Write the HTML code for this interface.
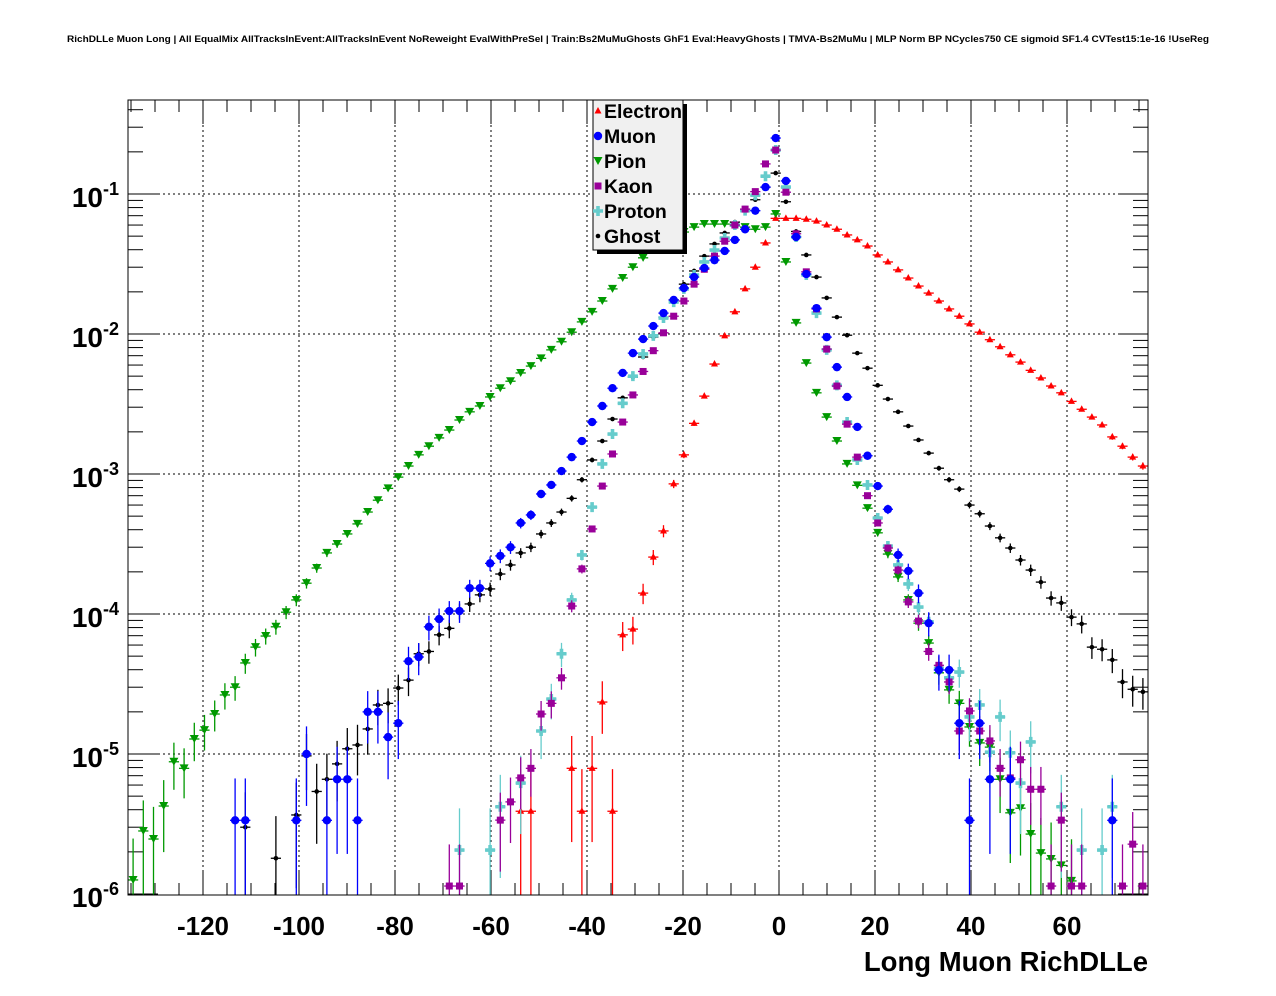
<!DOCTYPE html>
<html><head><meta charset="utf-8"><title>RichDLLe</title>
<style>html,body{margin:0;padding:0;background:#fff;width:1276px;height:996px;overflow:hidden;}svg{display:block;font-family:"Liberation Sans",sans-serif;}</style>
</head><body>
<svg id="chart" width="1276" height="996" viewBox="0 0 1276 996" xmlns="http://www.w3.org/2000/svg">
<defs><clipPath id="pc"><rect x="128" y="100" width="1020" height="795"/></clipPath></defs>
<text x="67" y="42" font-size="9.5" font-weight="bold" textLength="1142" lengthAdjust="spacingAndGlyphs">RichDLLe Muon Long | All EqualMix AllTracksInEvent:AllTracksInEvent NoReweight EvalWithPreSel | Train:Bs2MuMuGhosts GhF1 Eval:HeavyGhosts | TMVA-Bs2MuMu | MLP Norm BP NCycles750 CE sigmoid SF1.4 CVTest15:1e-16 !UseReg</text>
<g id="grid"></g>
<g id="axes"></g>
<g id="marks" clip-path="url(#pc)"></g>
<rect x="128" y="100" width="1020" height="795" fill="none" stroke="#000" stroke-width="1"/>
<g id="legend"></g>
<text x="1148" y="971" text-anchor="end" font-size="27.5" font-weight="bold">Long Muon RichDLLe</text>
</svg>
<script>
const xMin=-135.625, xMax=76.875, nBins=100, binW=(xMax-xMin)/nBins;
const yTickExps=[-1,-2,-3,-4,-5,-6];
const xTickLabels=[-120,-100,-80,-60,-40,-20,0,20,40,60];
const seriesNames=["Electron","Muon","Pion","Kaon","Proton","Ghost"];

const electronBins=[38,39,43,44,45,46,47,48,49,50,51,52,53,54,55,56,57,58,59,60,61,62,63,64,65,66,67,68,69,70,71,72,73,74,75,76,77,78,79,80,81,82,83,84,85,86,87,88,89,90,91,92,93,94,95,96,97,98,99];
const electronVals=[3.9e-6,3.9e-6,7.9e-6,3.9e-6,7.9e-6,2.35e-5,3.9e-6,7.1e-5,7.8e-5,1.41e-4,2.55e-4,3.92e-4,8.5e-4,1.37e-3,2.3e-3,3.6e-3,6.1e-3,9.7e-3,1.44e-2,2.1e-2,3.0e-2,4.47e-2,6.7e-2,6.7e-2,6.7e-2,6.6e-2,6.4e-2,6.0e-2,5.6e-2,5.1e-2,4.7e-2,4.25e-2,3.67e-2,3.27e-2,2.87e-2,2.51e-2,2.2e-2,1.96e-2,1.72e-2,1.51e-2,1.34e-2,1.18e-2,1.03e-2,9.1e-3,8.1e-3,7.1e-3,6.3e-3,5.5e-3,4.85e-3,4.25e-3,3.8e-3,3.3e-3,2.9e-3,2.55e-3,2.24e-3,1.84e-3,1.58e-3,1.32e-3,1.14e-3];

const muonBins=[10,11,16,17,19,20,21,22,23,24,25,26,27,28,29,30,31,32,33,34,35,36,37,38,39,40,41,42,43,44,45,46,47,48,49,50,51,52,53,54,55,56,57,58,59,60,61,62,63,64,65,66,67,68,69,70,71,72,73,74,75,76,77,78,79,80,81,82,83,84,86,96];
const muonVals=[3.36e-6,3.36e-6,3.36e-6,1e-5,3.36e-6,6.6e-6,6.6e-6,3.36e-6,2.0e-5,2.0e-5,1.32e-5,1.66e-5,4.6e-5,4.93e-5,8.1e-5,9.2e-5,1.05e-4,1.05e-4,1.53e-4,1.53e-4,2.3e-4,2.6e-4,3.0e-4,4.47e-4,5.1e-4,7.2e-4,8.35e-4,1.05e-3,1.32e-3,1.72e-3,2.35e-3,3.06e-3,4.1e-3,5.27e-3,7.3e-3,9.2e-3,1.14e-2,1.41e-2,1.75e-2,2.13e-2,2.55e-2,2.96e-2,3.37e-2,3.92e-2,4.7e-2,5.6e-2,7.6e-2,0.112,0.251,0.124,4.93e-2,2.68e-2,1.53e-2,9.5e-3,5.8e-3,3.55e-3,2.17e-3,1.35e-3,8.2e-4,5.6e-4,2.64e-4,2.03e-4,1.41e-4,8.6e-5,3.98e-5,3.98e-5,1.66e-5,3.36e-6,1.66e-5,6.6e-6,6.6e-6,3.36e-6];

const pionBins=[0,1,2,3,4,5,6,7,8,9,10,11,12,13,14,15,16,17,18,19,20,21,22,23,24,25,26,27,28,29,30,31,32,33,34,35,36,37,38,39,40,41,42,43,44,45,46,47,48,49,50,51,52,53,54,55,56,57,58,59,60,61,62,63,64,65,66,67,68,69,70,71,72,73,74,75,76,77,78,79,80,81,82,83,84,85,86,87,88,89,90,91,92];
const pionVals=[1.26e-6,2.82e-6,2.47e-6,4.25e-6,8.8e-6,7.9e-6,1.28e-5,1.48e-5,1.93e-5,2.64e-5,3.0e-5,4.47e-5,5.8e-5,6.96e-5,8.1e-5,1.03e-4,1.26e-4,1.66e-4,2.13e-4,2.73e-4,3.16e-4,3.73e-4,4.4e-4,5.35e-4,6.5e-4,7.9e-4,9.5e-4,1.14e-3,1.37e-3,1.58e-3,1.81e-3,2.06e-3,2.43e-3,2.78e-3,3.06e-3,3.55e-3,4.1e-3,4.6e-3,5.27e-3,5.9e-3,6.7e-3,7.7e-3,8.8e-3,1.03e-2,1.22e-2,1.44e-2,1.72e-2,2.1e-2,2.51e-2,3.0e-2,3.5e-2,3.98e-2,4.47e-2,4.93e-2,5.35e-2,5.8e-2,6.1e-2,6.1e-2,6.1e-2,5.9e-2,5.8e-2,5.6e-2,5.8e-2,7.2e-2,3.27e-2,1.2e-2,6.2e-3,3.8e-3,2.55e-3,1.72e-3,1.18e-3,8.3e-4,5.7e-4,3.8e-4,2.68e-4,1.84e-4,1.26e-4,8.6e-5,6.2e-5,3.8e-5,2.87e-5,2.3e-5,1.56e-5,1.2e-5,1.12e-5,6.6e-6,3.8e-6,4.1e-6,2.68e-6,1.96e-6,1.78e-6,1.6e-6,1.24e-6];

const kaonBins=[31,32,36,37,38,39,40,41,42,43,44,45,46,47,48,49,50,51,52,53,54,55,56,57,58,59,60,61,62,63,64,65,66,67,68,69,70,71,72,73,74,75,76,77,78,79,80,81,82,83,84,85,86,87,88,89,90,91,92,93,97,98,99];
const kaonVals=[1.14e-6,1.14e-6,3.37e-6,4.55e-6,6.75e-6,7.9e-6,1.93e-5,2.3e-5,3.5e-5,1.14e-4,2.1e-4,4.05e-4,8.2e-4,1.39e-3,2.35e-3,3.67e-3,5.4e-3,7.6e-3,1.02e-2,1.34e-2,1.72e-2,2.27e-2,2.9e-2,3.6e-2,4.6e-2,6.0e-2,7.8e-2,0.104,0.164,0.206,0.103,5.2e-2,2.78e-2,1.51e-2,7.8e-3,4.25e-3,2.27e-3,1.32e-3,7.0e-4,4.47e-4,2.96e-4,2.06e-4,1.22e-4,8.9e-5,5.4e-5,4.3e-5,3.27e-5,1.46e-5,2.03e-5,1.46e-5,1.24e-5,7.9e-6,6.75e-6,9.1e-6,5.6e-6,5.6e-6,1.14e-6,3.37e-6,1.14e-6,1.14e-6,1.14e-6,2.27e-6,1.14e-6];

const protonBins=[32,35,36,38,40,41,42,43,44,45,46,47,48,49,50,51,52,53,54,55,56,57,58,59,60,61,62,63,64,65,66,67,68,69,70,71,72,73,74,75,76,77,78,79,80,81,82,83,84,85,86,87,88,91,93,95,96];
const protonVals=[2.06e-6,2.06e-6,4.2e-6,6.2e-6,1.46e-5,2.47e-5,5.2e-5,1.26e-4,2.64e-4,5.8e-4,1.18e-3,1.93e-3,3.2e-3,5.0e-3,7.2e-3,9.7e-3,1.3e-2,1.69e-2,2.1e-2,2.64e-2,3.27e-2,3.98e-2,4.85e-2,6.0e-2,7.6e-2,9.8e-2,0.134,0.206,0.112,4.93e-2,2.64e-2,1.41e-2,7.7e-3,4.3e-3,2.35e-3,1.26e-3,8.35e-4,4.85e-4,3.06e-4,2.24e-4,1.64e-4,1.12e-4,8.8e-5,4.1e-5,3.5e-5,3.85e-5,1.84e-5,2.24e-5,1.03e-5,1.84e-5,1.02e-5,6.2e-6,1.22e-5,4.2e-6,2.06e-6,2.06e-6,4.2e-6];

const ghostBins=[11,14,16,17,18,19,20,21,22,23,24,25,26,27,28,29,30,31,32,33,34,35,36,37,38,39,40,41,42,43,44,45,46,47,48,49,50,51,52,53,54,55,56,57,58,59,60,61,62,63,64,65,66,67,68,69,70,71,72,73,74,75,76,77,78,79,80,81,82,83,84,85,86,87,88,89,90,91,92,93,94,95,96,97,98,99];
const ghostVals=[3.0e-6,1.8e-6,3.67e-6,9.7e-6,5.4e-6,6.6e-6,8.5e-6,1.09e-5,1.16e-5,1.51e-5,2.24e-5,2.3e-5,2.96e-5,3.37e-5,5.2e-5,5.4e-5,7.1e-5,7.9e-5,1.05e-4,1.18e-4,1.37e-4,1.51e-4,1.93e-4,2.24e-4,2.73e-4,3.0e-4,3.73e-4,4.47e-4,5.35e-4,6.7e-4,9.1e-4,1.26e-3,1.72e-3,2.47e-3,3.5e-3,4.93e-3,6.85e-3,9.5e-3,1.32e-2,1.75e-2,2.27e-2,2.82e-2,3.6e-2,4.4e-2,5.27e-2,6.3e-2,7.7e-2,9.1e-2,0.112,0.141,8.8e-2,5.4e-2,3.67e-2,2.55e-2,1.81e-2,1.32e-2,9.8e-3,7.3e-3,5.7e-3,4.3e-3,3.43e-3,2.78e-3,2.2e-3,1.75e-3,1.41e-3,1.1e-3,9.1e-4,7.8e-4,6.0e-4,5.2e-4,4.25e-4,3.5e-4,2.96e-4,2.43e-4,2.06e-4,1.69e-4,1.3e-4,1.2e-4,9.5e-5,8.5e-5,5.8e-5,5.6e-5,4.7e-5,3.27e-5,2.9e-5,2.78e-5];

const NS="http://www.w3.org/2000/svg";
const PX0=128,PX1=1148,PY0=100,PY1=895;
function xs(x){return PX0+(x-xMin)/(xMax-xMin)*(PX1-PX0);}
function ys(v){return 194-(Math.log10(v)+1)*140;}
function mk(tag,attrs,parent){const e=document.createElementNS(NS,tag);for(const k in attrs)e.setAttribute(k,attrs[k]);parent.appendChild(e);return e;}
const grid=document.getElementById('grid'),axes=document.getElementById('axes'),marks=document.getElementById('marks'),leg=document.getElementById('legend');

yTickExps.forEach(function(ex){
  const y=ys(Math.pow(10,ex));
  if(ex!==-6){const g=mk('line',{x1:PX0,x2:PX1,y1:y,y2:y,stroke:'#000','stroke-width':1,'stroke-dasharray':'2,3'},grid);
  
  }
  mk('line',{x1:PX0,x2:PX0+30,y1:y,y2:y,stroke:'#000'},axes);
  mk('line',{x1:PX1,x2:PX1-30,y1:y,y2:y,stroke:'#000'},axes);
  const t=mk('text',{x:119,y:y+13,'text-anchor':'end','font-size':28,'font-weight':'bold'},axes);
  
  
  const a=document.createElementNS(NS,'tspan');a.textContent='10';t.appendChild(a);
  const b=document.createElementNS(NS,'tspan');b.setAttribute('dy','-12');b.setAttribute('font-size','18');b.textContent=String(ex);t.appendChild(b);
  for(let m=2;m<=9;m++){const v=Math.pow(10,ex)*m;const yy=ys(v);if(yy<PY0)continue;
    mk('line',{x1:PX0,x2:PX0+15,y1:yy,y2:yy,stroke:'#000'},axes);
    mk('line',{x1:PX1,x2:PX1-15,y1:yy,y2:yy,stroke:'#000'},axes);}
});
for(let v=-135;v<=76;v+=5){const x=xs(v);const major=(v%20===0);const L=major?24:12;
  mk('line',{x1:x,x2:x,y1:PY1,y2:PY1-L,stroke:'#000'},axes);
  mk('line',{x1:x,x2:x,y1:PY0,y2:PY0+L,stroke:'#000'},axes);}
xTickLabels.forEach(function(v){const x=xs(v);
  const g=mk('line',{x1:x,x2:x,y1:PY0,y2:PY1,stroke:'#000','stroke-dasharray':'2,3'},grid);
  
  
  const t=mk('text',{x:x,y:935,'text-anchor':'middle','font-size':26,'font-weight':'bold'},axes);
  t.textContent=String(v);
  
  
});

function marker(kind,x,y,col,parent){
  if(kind==='tri')return mk('polygon',{points:(x)+','+(y-4)+' '+(x-3.5)+','+(y+2.5)+' '+(x+3.5)+','+(y+2.5),fill:col},parent);
  if(kind==='circ')return mk('circle',{cx:x,cy:y,r:4.2,fill:col},parent);
  if(kind==='tdown')return mk('polygon',{points:(x-4.5)+','+(y-4)+' '+(x+4.5)+','+(y-4)+' '+x+','+(y+4),fill:col},parent);
  if(kind==='sq')return mk('rect',{x:x-3.5,y:y-3.5,width:7,height:7,fill:col},parent);
  if(kind==='cross')return mk('path',{d:'M'+(x-5)+' '+(y-1.8)+'h3.2v-3.2h3.6v3.2h3.2v3.6h-3.2v3.2h-3.6v-3.2h-3.2z',fill:col},parent);
  return mk('circle',{cx:x,cy:y,r:2.3,fill:col},parent);
}
const seriesDefs=[
 {name:'electron',bins:electronBins,vals:electronVals,col:'#ff0000',kind:'tri',w:3.9e-6},
 {name:'pion',bins:pionBins,vals:pionVals,col:'#009900',kind:'tdown',w:1.2e-6},
 {name:'ghost',bins:ghostBins,vals:ghostVals,col:'#000000',kind:'dot',w:1.8e-6},
 {name:'proton',bins:protonBins,vals:protonVals,col:'#66cccc',kind:'cross',w:2.0e-6},
 {name:'kaon',bins:kaonBins,vals:kaonVals,col:'#990099',kind:'sq',w:1.1e-6},
 {name:'muon',bins:muonBins,vals:muonVals,col:'#0000ff',kind:'circ',w:3.3e-6}
];
seriesDefs.forEach(function(s){
  const g=mk('g',{},marks);
  
  
  s.bins.forEach(function(b,i){
    const v=s.vals[i];const xc=xMin+binW*(b+0.5);const x=xs(xc),y=ys(v);
    const err=Math.sqrt(v*s.w);const lo=v-err>1e-9?ys(v-err):PY1+10;const hi=ys(v+err);
    mk('line',{x1:x,x2:x,y1:hi,y2:Math.min(lo,PY1+5),stroke:s.col,'stroke-width':1.3},g);
    mk('line',{x1:xs(xc-binW/2),x2:xs(xc+binW/2),y1:y,y2:y,stroke:s.col,'stroke-width':1.3},g);
    const m=marker(s.kind,x,y,s.col,g);
    
    
  });
});
mk('rect',{x:597,y:104,width:90,height:150,fill:'#000'},leg);
const lb=mk('rect',{x:593,y:100,width:90,height:150,fill:'#f0f0f0',stroke:'#000'},leg);


const legKinds=['tri','circ','tdown','sq','cross','dot'];
const legCols=['#ff0000','#0000ff','#009900','#990099','#66cccc','#000000'];
seriesNames.forEach(function(n,i){
  const y=111+25*i;
  const e=mk('g',{},leg);
  
  
  marker(legKinds[i],598,y,legCols[i],e);
  const t=mk('text',{x:604,y:y+7,'font-size':19.5,'font-weight':'bold'},e);t.textContent=n;
});
</script>
</body></html>
